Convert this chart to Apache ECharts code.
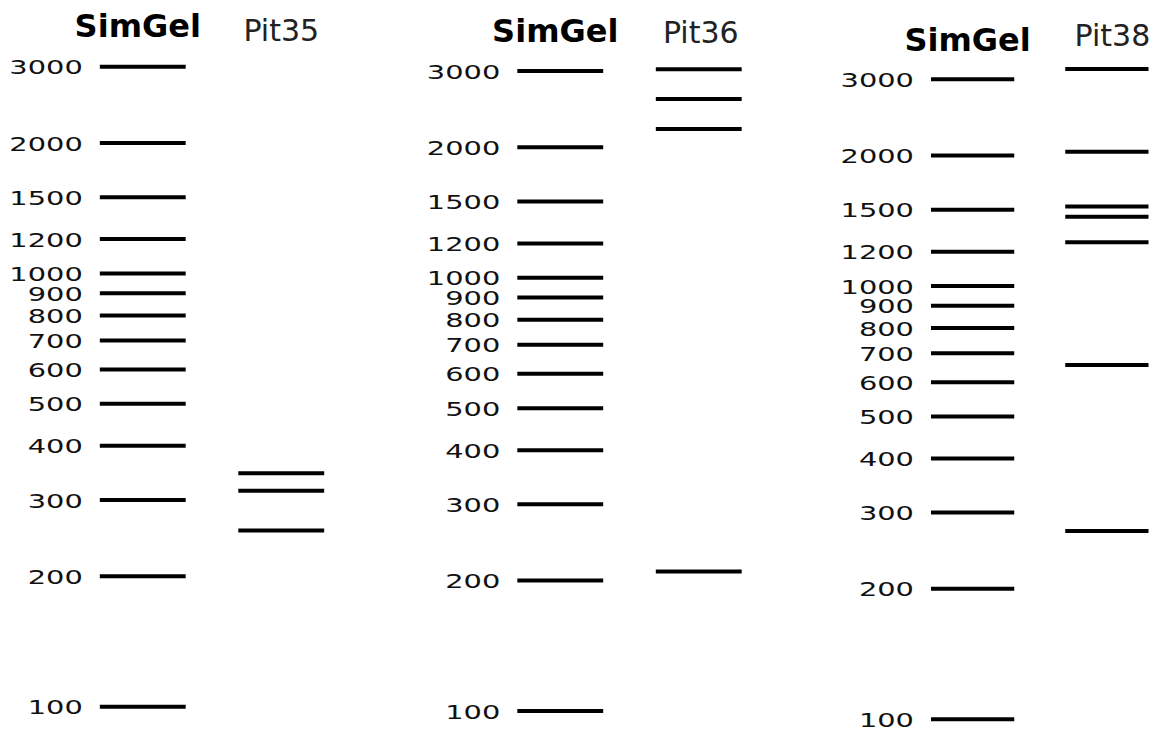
<!DOCTYPE html>
<html>
<head>
<meta charset="utf-8">
<script src="https://cdn.jsdelivr.net/npm/echarts@6/dist/echarts.min.js"></script>
<style>
html,body{margin:0;padding:0;background:#fff;}
#chart{width:1174px;height:731px;}
</style>
</head>
<body>
<div id="chart"></div>
<script>
// ---- data ----
const ladderName = 'SimGel';
const ladderSizes = [3000, 2000, 1500, 1200, 1000, 900, 800, 700, 600, 500, 400, 300, 200, 100];
const laneNames = ['Pit35', 'Pit36', 'Pit38'];
const pit35Bands = [346, 315, 255];
const pit36Bands = [3030, 2585, 2205, 210];
const pit38Bands = [3170, 2040, 1525, 1445, 1262, 657, 272];
const sampleBands = [pit35Bands, pit36Bands, pit38Bands];

// ---- layout ----
const gridLefts = [73.5, 491, 905.5];
const gridTops = [66.7, 71, 79.3];
const gridWidth = 277;
const gridHeight = 640;
const titleMargins = [21, 23.8, 23.6];
const ladderTitlePad = [[0, 10, 3.5, 0], [0, 10, 0, 0], [0, 10, 0, 0]];
const laneTitlePad = [[0, 0, 0, 0], [0, 0, 0, 4], [0, 0, 5, 11]];

function bandItem(withLabel) {
  return function (params, api) {
    const c = api.coord([api.value(0), api.value(1)]);
    const w = api.size([1, 0])[0] * 0.62;
    const children = [{
      type: 'rect',
      shape: { x: c[0] - w / 2, y: c[1] - 2, width: w, height: 4 },
      style: { fill: '#000' }
    }];
    if (withLabel) {
      children.push({
        type: 'text',
        x: c[0] - w / 2 - 17,
        y: c[1] + 1,
        scaleX: 1.52,
        style: {
          text: String(api.value(1)),
          x: 0,
          y: 0,
          align: 'right',
          verticalAlign: 'middle',
          fontSize: 19,
          lineHeight: 16,
          fontFamily: 'DejaVu Sans',
          fill: '#111'
        }
      });
    }
    return { type: 'group', children: children };
  };
}

const grids = [], xAxes = [], yAxes = [], series = [];
laneNames.forEach(function (lane, i) {
  grids.push({ left: gridLefts[i], top: gridTops[i], width: gridWidth, height: gridHeight });
  xAxes.push({
    gridIndex: i,
    type: 'category',
    position: 'top',
    data: [ladderName, lane],
    boundaryGap: true,
    axisLine: { show: false },
    axisTick: { show: false },
    splitLine: { show: false },
    axisLabel: {
      interval: 0,
      margin: titleMargins[i],
      formatter: function (v, idx) { return idx === 0 ? '{a|' + v + '}' : '{b|' + v + '}'; },
      rich: {
        a: { fontSize: 32, fontWeight: 'bold', fontFamily: 'DejaVu Sans', color: '#000', padding: ladderTitlePad[i] },
        b: { fontSize: 30, fontFamily: 'DejaVu Sans', color: '#222', padding: laneTitlePad[i] }
      }
    }
  });
  yAxes.push({
    gridIndex: i,
    type: 'log',
    logBase: 10,
    min: 100,
    max: 3000,
    show: false
  });
  series.push({
    type: 'custom',
    name: ladderName + ' ' + (i + 1),
    xAxisIndex: i,
    yAxisIndex: i,
    clip: false,
    renderItem: bandItem(true),
    data: ladderSizes.map(function (s) { return [0, s]; })
  });
  series.push({
    type: 'custom',
    name: lane,
    xAxisIndex: i,
    yAxisIndex: i,
    clip: false,
    renderItem: bandItem(false),
    data: sampleBands[i].map(function (s) { return [1, s]; })
  });
});

const chart = echarts.init(document.getElementById('chart'), null, { renderer: 'svg' });
chart.setOption({
  backgroundColor: '#fff',
  animation: false,
  grid: grids,
  xAxis: xAxes,
  yAxis: yAxes,
  series: series
});
</script>
</body>
</html>
